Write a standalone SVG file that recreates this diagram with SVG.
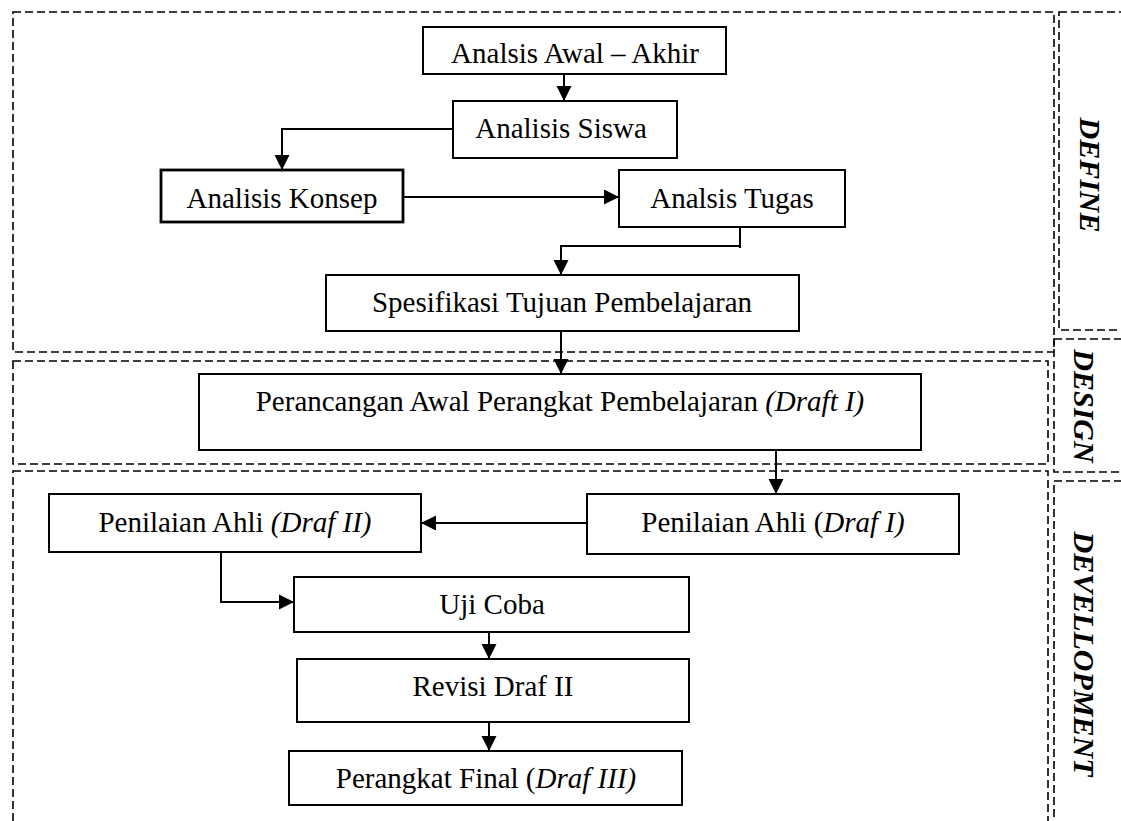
<svg xmlns="http://www.w3.org/2000/svg" width="1121" height="821" viewBox="0 0 1121 821">
<style>
.bg{fill:#ffffff}
.zone{fill:none;stroke:#000;stroke-width:1.6;stroke-dasharray:8 4}
.box{fill:#fff;stroke:#000;stroke-width:2}
.thick{stroke-width:2.8}
.t{font-family:"Liberation Serif","Times New Roman",serif;font-size:29px;fill:#000;text-anchor:middle}
.i{font-style:italic}
.lbl{font-family:"Liberation Serif","Times New Roman",serif;font-size:30px;font-weight:bold;font-style:italic;fill:#000;text-anchor:middle}
.c{fill:none;stroke:#000;stroke-width:2}
</style>
<defs>
<marker id="ah" markerUnits="userSpaceOnUse" markerWidth="16" markerHeight="16" refX="15" refY="8" orient="auto" overflow="visible">
<path d="M0,0.5 L15,8 L0,15.5 Z" fill="#000"/>
</marker>
</defs>
<rect class="bg" x="0" y="0" width="1121" height="821"/>

<g id="zones">
<rect class="zone" x="13" y="12" width="1041" height="340"/>
<rect class="zone" x="1059" y="12" width="80" height="318"/>
<rect class="zone" x="13" y="361" width="1035" height="103"/>
<rect class="zone" x="1054" y="339" width="80" height="133"/>
<rect class="zone" x="13" y="471" width="1035" height="400"/>
<rect class="zone" x="1054" y="481" width="80" height="400"/>
</g>

<g id="phase-labels">
<text class="lbl" transform="translate(1090,175) rotate(90)" x="0" y="10">DEFINE</text>
<text class="lbl" transform="translate(1084,406) rotate(90)" x="0" y="10">DESIGN</text>
<text class="lbl" transform="translate(1084,654) rotate(90)" x="0" y="10">DEVELLOPMENT</text>
</g>

<g id="connectors">
<path class="c" d="M564,74 V101" marker-end="url(#ah)"/>
<path class="c" d="M453,129 H282 V170" marker-end="url(#ah)"/>
<path class="c" d="M403,197 H619" marker-end="url(#ah)"/>
<path class="c" d="M740,227 V248"/>
<path class="c" d="M740,246 H561 V275" marker-end="url(#ah)"/>
<path class="c" d="M561,331 V374" marker-end="url(#ah)"/>
<path class="c" d="M776,450 V494" marker-end="url(#ah)"/>
<path class="c" d="M587,523 H421" marker-end="url(#ah)"/>
<path class="c" d="M221,552 V602 H294" marker-end="url(#ah)"/>
<path class="c" d="M489,632 V659" marker-end="url(#ah)"/>
<path class="c" d="M489,722 V751" marker-end="url(#ah)"/>
</g>

<g id="n-awal-akhir">
<rect class="box" x="423" y="27" width="303" height="47"/>
<text class="t" x="575" y="63">Analsis Awal – Akhir</text>
</g>
<g id="n-siswa">
<rect class="box" x="453" y="101" width="224" height="57"/>
<text class="t" x="561" y="138">Analisis Siswa</text>
</g>
<g id="n-konsep">
<rect class="box thick" x="161" y="170" width="242" height="52"/>
<text class="t" x="282" y="208">Analisis Konsep</text>
</g>
<g id="n-tugas">
<rect class="box" x="619" y="170" width="226" height="57"/>
<text class="t" x="732" y="208">Analsis Tugas</text>
</g>
<g id="n-spesifikasi">
<rect class="box" x="326" y="275" width="473" height="56"/>
<text class="t" x="562" y="312">Spesifikasi Tujuan Pembelajaran</text>
</g>
<g id="n-perancangan">
<rect class="box" x="199" y="374" width="722" height="76"/>
<text class="t" x="560" y="411">Perancangan Awal Perangkat Pembelajaran <tspan class="i">(Draft I)</tspan></text>
</g>
<g id="n-penilaian-1">
<rect class="box" x="587" y="494" width="372" height="60"/>
<text class="t" x="773" y="532">Penilaian Ahli (<tspan class="i">Draf I)</tspan></text>
</g>
<g id="n-penilaian-2">
<rect class="box" x="49" y="494" width="372" height="58"/>
<text class="t" x="235" y="532">Penilaian Ahli <tspan class="i">(Draf II)</tspan></text>
</g>
<g id="n-uji-coba">
<rect class="box" x="294" y="577" width="395" height="55"/>
<text class="t" x="492" y="614">Uji Coba</text>
</g>
<g id="n-revisi">
<rect class="box" x="297" y="659" width="392" height="63"/>
<text class="t" x="493" y="696">Revisi Draf II</text>
</g>
<g id="n-final">
<rect class="box" x="289" y="751" width="393" height="54"/>
<text class="t" x="486" y="788">Perangkat Final (<tspan class="i">Draf III)</tspan></text>
</g>
</svg>
